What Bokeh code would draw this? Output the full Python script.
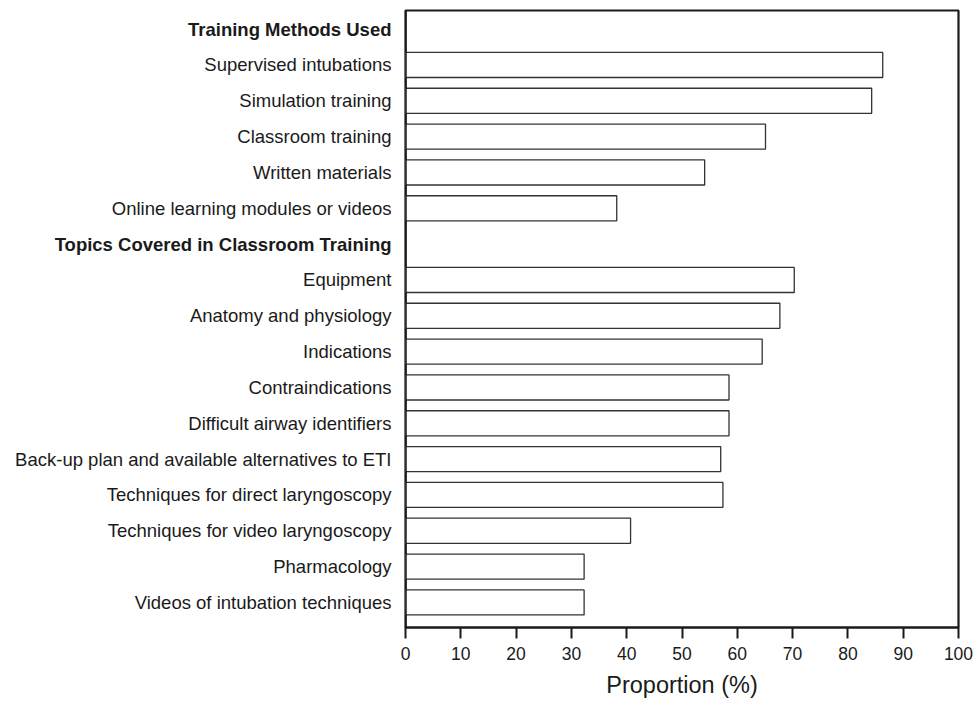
from bokeh.plotting import figure
from bokeh.models import FixedTicker, Range1d, Span
from bokeh.layouts import row
from bokeh.core.properties import value
from bokeh.embed import file_html
from bokeh.resources import INLINE

# ---- data ----
header_methods = "Training Methods Used"
methods = ["Supervised intubations", "Simulation training", "Classroom training",
           "Written materials", "Online learning modules or videos"]
method_vals = [86.3, 84.3, 65.1, 54.1, 38.2]

header_topics = "Topics Covered in Classroom Training"
topics = ["Equipment", "Anatomy and physiology", "Indications", "Contraindications",
          "Difficult airway identifiers", "Back-up plan and available alternatives to ETI",
          "Techniques for direct laryngoscopy", "Techniques for video laryngoscopy",
          "Pharmacology", "Videos of intubation techniques"]
topic_vals = [70.3, 67.7, 64.5, 58.5, 58.5, 57.0, 57.4, 40.7, 32.3, 32.3]

x_ticks = [0, 10, 20, 30, 40, 50, 60, 70, 80, 90, 100]
x_title = "Proportion (%)"

# ---- layout of rows (top to bottom) ----
rows = [header_methods] + methods + [header_topics] + topics
n = len(rows)
ypos = {name: n - 1 - i for i, name in enumerate(rows)}
headers = [header_methods, header_topics]

bar_names = methods + topics
bar_vals = method_vals + topic_vals
bar_y = [ypos[c] for c in bar_names]

FONT = "Liberation Sans"
TXT = "#1a1a1a"
LABEL_W = 400
LABEL_RIGHT = 391

y_range = Range1d(-0.70, n - 1 + 0.52)

# ---- label panel ----
lab = figure(width=LABEL_W, height=703, output_backend="svg", toolbar_location=None,
             x_range=Range1d(0, LABEL_W), y_range=y_range,
             x_axis_location=None, y_axis_location=None,
             min_border_left=0, min_border_right=0, min_border_top=10,
             min_border_bottom=76)
lab.outline_line_color = None
lab.xgrid.visible = False
lab.ygrid.visible = False

plain = [r for r in rows if r not in headers]
lab.text(x=[LABEL_RIGHT] * len(plain), y=[ypos[r] for r in plain], text=plain,
         text_align="right", text_baseline="middle", text_font=value(FONT),
         text_font_size="18.5px", text_color=TXT)
lab.text(x=[LABEL_RIGHT] * len(headers), y=[ypos[r] for r in headers], text=headers,
         text_align="right", text_baseline="middle", text_font=value(FONT),
         text_font_size="18.5px", text_font_style="bold", text_color=TXT)

# ---- bar panel ----
p = figure(width=976 - LABEL_W, height=703, output_backend="svg", toolbar_location=None,
           x_range=Range1d(0, 100), y_range=y_range, y_axis_location=None,
           min_border_left=5, min_border_right=18, min_border_top=10,
           min_border_bottom=76)

p.hbar(y=bar_y, left=0, right=bar_vals, height=0.70,
       fill_color="white", line_color="#333333", line_width=1.3)

p.add_layout(Span(location=0, dimension="height", line_color="#1a1a1a", line_width=2.4))

p.outline_line_color = "#1a1a1a"
p.outline_line_width = 2.2
p.outline_line_alpha = 1.0
p.xgrid.visible = False
p.ygrid.visible = False
p.background_fill_color = "white"
p.border_fill_color = "white"

xa = p.xaxis[0]
xa.ticker = FixedTicker(ticks=x_ticks)
xa.minor_tick_line_color = None
xa.major_tick_in = 0
xa.major_tick_out = 11
xa.major_tick_line_width = 2
xa.major_tick_line_color = "#1a1a1a"
xa.axis_line_width = 2.2
xa.axis_line_color = "#1a1a1a"
xa.major_label_text_font = FONT
xa.major_label_text_font_size = "17.5px"
xa.major_label_text_color = TXT
xa.major_label_standoff = 8
xa.axis_label = x_title
xa.axis_label_text_font = FONT
xa.axis_label_text_font_size = "23.5px"
xa.axis_label_text_font_style = "normal"
xa.axis_label_text_color = TXT
xa.axis_label_standoff = 9

layout = row(lab, p, spacing=0)
open("out.html", "w").write(file_html(layout, INLINE))
